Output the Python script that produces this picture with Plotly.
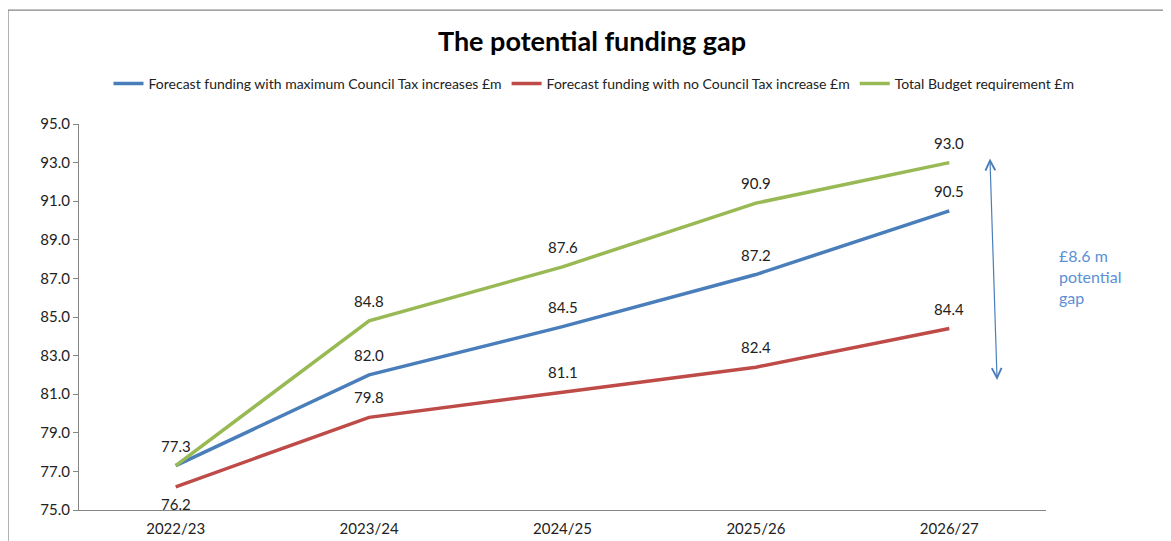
import plotly.graph_objects as go

categories = ["2022/23", "2023/24", "2024/25", "2025/26", "2026/27"]
max_ct = [77.3, 82.0, 84.5, 87.2, 90.5]
no_ct = [76.2, 79.8, 81.1, 82.4, 84.4]
budget = [77.3, 84.8, 87.6, 90.9, 93.0]
series_names = [
    "Forecast funding with maximum Council Tax increases £m",
    "Forecast funding with no Council Tax increase £m",
    "Total Budget requirement £m",
]
colors = ["#4a7ebb", "#be4b48", "#98b954"]
y_ticks = [75.0, 77.0, 79.0, 81.0, 83.0, 85.0, 87.0, 89.0, 91.0, 93.0, 95.0]

FONT = "Lato"
W, H = 1171, 541
OFF = 8  # page body offset
fig = go.Figure()
for name, vals, col in zip(series_names, [max_ct, no_ct, budget], colors):
    fig.add_trace(go.Scatter(x=categories, y=vals, name=name, mode="lines",
                             line=dict(color=col, width=3.5)))

annotations = []
label_specs = [
    (max_ct, [False, True, True, True, True]),
    (no_ct, [True, True, True, True, True]),
    (budget, [True, True, True, True, True]),
]
for vals, show in label_specs:
    for i, (c, v) in enumerate(zip(categories, vals)):
        if not show[i]:
            continue
        ys = 20
        if vals is no_ct and i == 0:
            ys = -17
        annotations.append(dict(x=c, y=v, xref="x", yref="y", text=f"{v:.1f}",
                                showarrow=False, yshift=ys,
                                font=dict(family=FONT, size=15, color="#222")))

# gap arrow
annotations.append(dict(x=4.247, y=81.74, ax=4.21, ay=93.29, xref="x", yref="y",
                        axref="x", ayref="y", text="", showarrow=True,
                        arrowhead=5, startarrowhead=5, arrowside="end+start",
                        arrowsize=1.6, startarrowsize=1.6,
                        arrowwidth=1.2, arrowcolor="#4a7ebb"))
annotations.append(dict(x=1.011, y=0.604, xref="paper", yref="paper",
                        text="£8.6 m<br>potential<br>gap", showarrow=False,
                        xanchor="left", yanchor="middle", align="left",
                        font=dict(family=FONT, size=16, color="#5b8fd6")))

fig.update_layout(
    width=W, height=H,
    margin=dict(l=79 - OFF, r=W - (1046 - OFF), t=124 - OFF, b=H - (510 - OFF),
                autoexpand=False),
    paper_bgcolor="white", plot_bgcolor="white",
    title=dict(text="<b>The potential funding gap</b>", x=(592 - OFF) / W,
               xanchor="center", y=1 - (42 - OFF) / H, yanchor="middle",
               font=dict(family=FONT, size=27, color="#000")),
    legend=dict(orientation="h", x=(594 - OFF) / W, xanchor="center",
                xref="container", y=1 - (84 - OFF) / H,
                yref="container", yanchor="middle",
                font=dict(family=FONT, size=14, color="#222"),
                itemwidth=30, tracegroupgap=0),
    showlegend=True,
    annotations=annotations,
    font=dict(family=FONT),
    shapes=[dict(type="rect", xref="paper", yref="paper",
                 x0=-0.0734, x1=1.2, y0=-0.2, y1=1.295,
                 line=dict(color="#868686", width=1.2), layer="below")],
)
fig.update_xaxes(type="category", range=[-0.5, 4.5], showline=True,
                 linecolor="#868686", linewidth=1, showgrid=False,
                 ticks="", ticklabelstandoff=5,
                 tickfont=dict(family=FONT, size=15, color="#222"))
fig.update_yaxes(range=[75, 95], tickvals=y_ticks, tickformat=".1f",
                 showline=True, linecolor="#868686", linewidth=1,
                 showgrid=False, ticks="outside", ticklen=5, tickcolor="#868686",
                 zeroline=False,
                 tickfont=dict(family=FONT, size=15, color="#222"))
fig.write_html("out.html")
